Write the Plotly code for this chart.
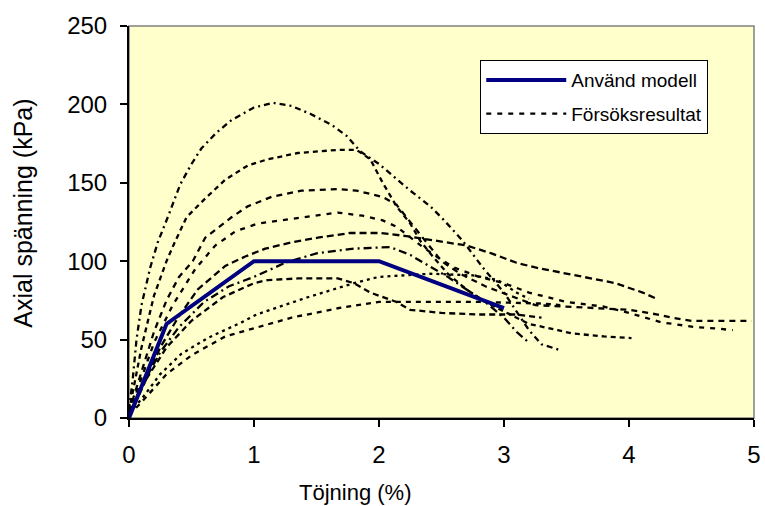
import plotly.graph_objects as go

# Model curve (Använd modell)
model_x = [0, 0.3, 1, 2, 3]
model_y = [0, 60, 100, 100, 70]

# Test results (Försöksresultat)
a_x = [0, 0.03, 0.06, 0.1, 0.17, 0.23, 0.31, 0.41, 0.5, 0.58, 0.7, 0.82, 1.0, 1.15, 1.3, 1.45, 1.62, 1.74, 1.85, 2.0, 2.25, 2.41, 2.51, 2.67, 2.83, 3.0, 3.1, 3.2, 3.3, 3.46]
a_y = [5, 25, 50, 72, 96, 112, 128, 149, 162, 172, 182, 190, 198, 201, 199, 194, 187, 180, 170, 162, 145, 135, 127, 113, 96, 80, 68, 56, 47, 43]

b_x = [0, 0.04, 0.1, 0.2, 0.3, 0.36, 0.46, 0.61, 0.77, 0.95, 1.11, 1.35, 1.67, 1.82, 1.93, 2.03, 2.14, 2.25, 2.33, 2.43, 2.55, 2.7, 2.85, 3.0, 3.2, 3.43, 3.54, 3.8, 4.02]
b_y = [4, 20, 45, 78, 100, 111, 128, 140, 152, 161, 165, 169, 171, 171, 165, 150, 135, 124, 113, 103, 92, 82, 74, 68, 60, 56, 54, 52, 51]

c_x = [0, 0.1, 0.2, 0.3, 0.4, 0.51, 0.61, 0.82, 0.95, 1.14, 1.38, 1.67, 1.82, 2.03, 2.14, 2.22, 2.3, 2.4, 2.5, 2.65, 2.85, 3.05, 3.25, 3.5, 4.0, 4.23, 4.34, 4.5, 4.98]
c_y = [4, 30, 55, 75, 90, 100, 115, 128, 135, 141, 145, 146, 145, 141, 136, 128, 120, 110, 100, 92, 84, 78, 72, 71, 69, 66, 64, 62, 62]

d_x = [0, 0.1, 0.2, 0.35, 0.53, 0.69, 0.85, 1.03, 1.22, 1.46, 1.67, 1.87, 2.03, 2.14, 2.25, 2.35, 2.46, 2.6, 2.8, 3.0, 3.2, 3.5, 3.8, 4.0, 4.26, 4.53, 4.71, 4.83]
d_y = [3, 25, 48, 72, 95, 110, 119, 124, 126, 129, 131, 129, 126, 122, 115, 109, 103, 96, 90, 86, 80, 74, 71, 67, 61, 58, 57, 56]

e_x = [0, 0.1, 0.25, 0.4, 0.55, 0.77, 0.93, 1.09, 1.3, 1.51, 1.77, 2.01, 2.22, 2.45, 2.7, 2.9, 3.1, 3.25, 3.65, 3.89, 4.11, 4.22]
e_y = [2, 18, 45, 65, 82, 97, 103, 108, 112, 115, 118, 118, 116, 113, 110, 105, 99, 96, 90, 86, 80, 76]

f_x = [0, 0.1, 0.25, 0.4, 0.6, 0.8, 1.0, 1.25, 1.5, 1.8, 2.09, 2.25, 2.4, 2.55, 2.7, 2.85, 3.0, 3.1, 3.2]
f_y = [3, 20, 42, 58, 74, 84, 90, 99, 105, 108, 109, 104, 97, 90, 82, 74, 64, 55, 48]

h_x = [0, 0.1, 0.3, 0.5, 0.75, 1.0, 1.11, 1.35, 1.67, 1.8, 1.93, 2.14, 2.25, 2.5, 2.8, 3.1, 3.3]
h_y = [2, 20, 45, 62, 77, 86, 88, 89, 89, 86, 80, 74, 69, 67, 66, 66, 64]

i_x = [0, 0.1, 0.25, 0.42, 0.63, 0.9, 1.02, 1.17, 1.43, 1.8, 2.0, 2.41, 2.75, 2.95, 3.1, 3.2]
i_y = [3, 12, 28, 41, 51, 61, 66, 70, 77, 86, 90, 92, 91, 88, 80, 76]

j_x = [0, 0.1, 0.3, 0.5, 0.77, 1.03, 1.3, 1.67, 2.0, 2.5, 2.81, 3.31, 3.45]
j_y = [2, 10, 28, 40, 52, 58, 64, 70, 74, 74, 74, 73, 72]

tests = [
    (d_x, d_y, "5px,6px"),
    (a_x, a_y, "6px,4px,2px,4px"),
    (b_x, b_y, "5px,4px"),
    (c_x, c_y, "6px,5px"),
    (e_x, e_y, "7px,4px"),
    (f_x, f_y, "8px,4px,2px,4px"),
    (h_x, h_y, "6px,4px"),
    (i_x, i_y, "3px,4px"),
    (j_x, j_y, "5px,5px"),
]

fig = go.Figure()
for k, (xs, ys, dash) in enumerate(tests):
    fig.add_trace(go.Scatter(
        x=xs, y=ys, mode="lines",
        line=dict(color="black", width=2.3, dash=dash),
        name="Försöksresultat", legendgroup="test", legendrank=2,
        showlegend=(k == 0), hoverinfo="skip"))

fig.add_trace(go.Scatter(
    x=model_x, y=model_y, mode="lines",
    line=dict(color="#000080", width=4),
    name="Använd modell", legendgroup="model", legendrank=1))

font_family = "Liberation Sans, Arial, sans-serif"
axis_common = dict(
    showline=True, linecolor="black", linewidth=2,
    ticks="outside", ticklen=7, tickwidth=2, tickcolor="black",
    showgrid=False, zeroline=False, automargin=False,
    tickfont=dict(size=24, color="black", family=font_family),
)

fig.update_layout(
    width=765, height=506,
    margin=dict(l=129, r=11, t=26, b=88),
    paper_bgcolor="white", plot_bgcolor="#FFFFCC",
    font=dict(family=font_family, color="black"),
    xaxis=dict(range=[0, 5], tickvals=[0, 1, 2, 3, 4, 5], ticklabelstandoff=7, **axis_common),
    yaxis=dict(range=[0, 250], tickvals=[0, 50, 100, 150, 200, 250], ticklabelstandoff=8, **axis_common),
    legend=dict(x=0.562, y=0.913, xanchor="left", yanchor="top",
                bgcolor="white", bordercolor="black", borderwidth=1,
                font=dict(size=19, color="black", family=font_family),
                itemwidth=80, tracegroupgap=6, traceorder="grouped"),
    shapes=[dict(type="rect", xref="paper", yref="paper", x0=0, x1=1, y0=0, y1=1,
                 line=dict(color="#808080", width=1.5), layer="below")],
    annotations=[
        dict(text="Töjning (%)", xref="paper", yref="paper", x=0.3616, y=-0.19,
             xanchor="center", yanchor="middle", showarrow=False,
             font=dict(size=22, color="black", family=font_family)),
        dict(text="Axial spänning (kPa)", xref="paper", yref="paper", x=-0.17, y=0.523,
             xanchor="center", yanchor="middle", showarrow=False, textangle=-90,
             font=dict(size=25, color="black", family=font_family)),
    ],
)

fig.write_html("out.html")
